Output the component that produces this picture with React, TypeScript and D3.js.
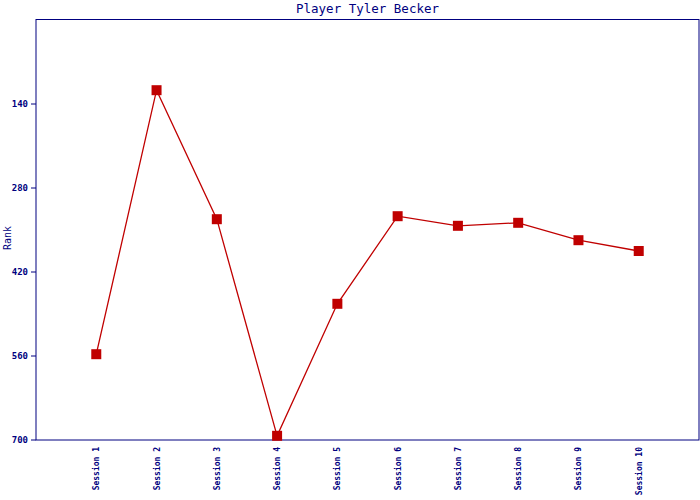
import React from "react";
import * as d3 from "d3";

const sessions = ["Session 1","Session 2","Session 3","Session 4","Session 5","Session 6","Session 7","Session 8","Session 9","Session 10"];
const ranks = [557, 117, 332, 693, 473, 327, 343, 338, 367, 385];
const yTicks = [140, 280, 420, 560, 700];

export default function App() {
  const W = 700, H = 500;
  const left = 36, right = 699, top = 20, bottom = 440;
  const x = d3.scalePoint<string>().domain(sessions).range([left, right]).padding(1);
  const y = d3.scaleLinear().domain([0, 700]).range([top, bottom]);
  const line = d3.line<number>().x((_, i) => x(sessions[i])!).y(d => y(d));
  const navy = "#000080";
  const red = "#c00000";
  const font = "'DejaVu Sans Mono', 'Liberation Mono', monospace";
  return (
    <svg width={W} height={H} style={{ position: "absolute", left: 0, top: 0, background: "#fff" }}>
      <text x={(left + right) / 2} y={13} textAnchor="middle" fill={navy} fontFamily={font} fontSize={12.5}>Player Tyler Becker</text>
      <rect x={left} y={top - 0.5} width={right - left} height={bottom - top + 0.5} fill="none" stroke={navy} strokeWidth={1} />
      {yTicks.map(t => (
        <g key={t}>
          <line x1={left - 5} x2={left} y1={y(t)} y2={y(t)} stroke={navy} />
          <text x={left - 8} y={y(t) + 3} textAnchor="end" fill={navy} fontFamily={font} fontSize={9} fontWeight="bold">{t}</text>
        </g>
      ))}
      <text transform={`translate(11,${(top + bottom) / 2 + 8}) rotate(-90)`} textAnchor="middle" fill={navy} fontFamily={font} fontSize={10}>Rank</text>
      {sessions.map(s => (
        <text key={s} transform={`translate(${x(s)! + 3},${bottom + 7}) rotate(-90)`} textAnchor="end" fill={navy} fontFamily={font} fontSize={8} fontWeight="bold">{s}</text>
      ))}
      <path d={line(ranks) || ""} fill="none" stroke={red} strokeWidth={1.3} />
      {ranks.map((r, i) => (
        <rect key={i} x={x(sessions[i])! - 5} y={y(r) - 5} width={10} height={10} fill={red} />
      ))}
    </svg>
  );
}
